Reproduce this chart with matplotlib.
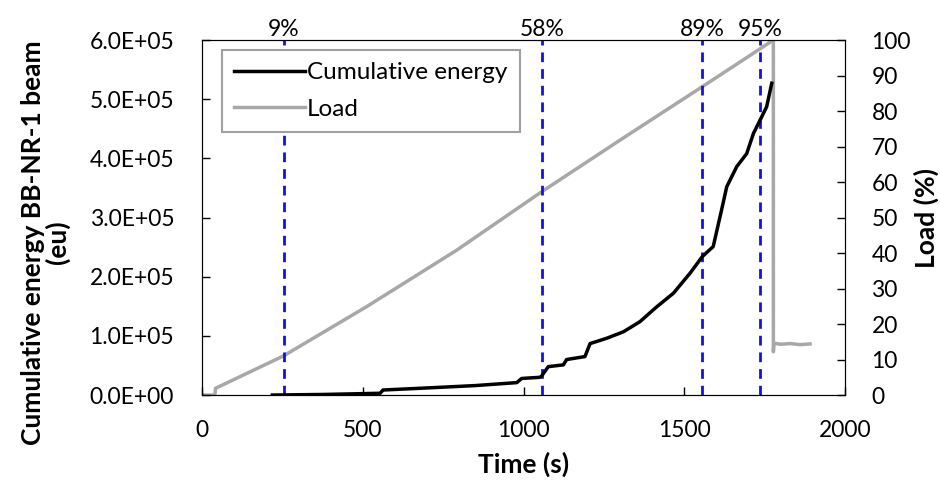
"""
Cumulative energy and load vs time, BB-NR-1 beam
"""

###############################################################################
# Libraries
import numpy as np
import matplotlib.pyplot as plt

####################################
# Data
t_load = [0, 40, 42, 253, 512, 792, 1057, 1300, 1555, 1700, 1777,
          1777, 1779, 1800, 1830, 1860, 1891]
load = [0, 0, 1.9, 11.0, 24.9, 40.8, 57.3, 71.8, 86.8, 95.4, 100.0,
        12.2, 14.6, 14.3, 14.5, 14.2, 14.4]

t_en = [219, 380, 554, 563, 700, 850, 979, 994, 1051, 1056, 1077, 1124,
        1134, 1145, 1191, 1207, 1259, 1311, 1362, 1414, 1466, 1518, 1556,
        1590, 1616, 1632, 1663, 1694, 1715, 1736, 1756, 1772]
energy = [0, 1.0e3, 3.0e3, 8.5e3, 1.2e4, 1.6e4, 2.1e4, 2.8e4, 3.0e4, 3.2e4,
          4.8e4, 5.1e4, 6.0e4, 6.1e4, 6.5e4, 8.7e4, 9.6e4, 1.07e5, 1.24e5,
          1.49e5, 1.72e5, 2.06e5, 2.34e5, 2.51e5, 3.13e5, 3.52e5, 3.86e5,
          4.08e5, 4.42e5, 4.65e5, 4.87e5, 5.27e5]

t_marks = [255, 1057, 1555, 1736]
mark_labels = ['9%', '58%', '89%', '95%']

####################################
# Plot
plt.rcParams['font.family'] = ['Lato', 'DejaVu Sans']
fs = 16.5
fl = 19

fig = plt.figure(figsize=(9.4, 4.8), dpi=100)
ax = fig.add_axes([0.2149, 0.177, 0.6841, 0.7396])
ax2 = ax.twinx()

for tm in t_marks:
    ax.axvline(tm, color='#1010ee', ls=(0, (3.5, 2.5)), lw=2, zorder=1)

l2, = ax2.plot(t_load, load, color='#a8a8a8', lw=2.5)
l1, = ax.plot(t_en, energy, color='k', lw=2.5, zorder=3)
ax.set_zorder(ax2.get_zorder() + 1)
ax.patch.set_visible(False)

ax.set_xlim(0, 2000)
ax.set_ylim(0, 6e5)
ax2.set_ylim(0, 100)
ax.set_xticks(np.arange(0, 2001, 500))
ax.set_yticks(np.arange(0, 6.01e5, 1e5))
ax2.set_yticks(np.arange(0, 101, 10))
ax.set_yticklabels(['%.1fE+%02d' % (v / 1e5 if v > 0 else 0, 5 if v > 0 else 0)
                    for v in ax.get_yticks()])

ax.tick_params(direction='in', labelsize=fs, length=6, width=1)
ax.tick_params(axis='y', pad=20)
ax.tick_params(axis='x', pad=18)
ax2.tick_params(direction='in', labelsize=fs, length=6, width=1, pad=19)

ax.set_xlabel('Time (s)', fontsize=fl, fontweight='bold', labelpad=8)
ax.set_ylabel('Cumulative energy BB-NR-1 beam\n(eu)', fontsize=fl,
              fontweight='bold', linespacing=1.0)
ax.yaxis.set_label_coords(-0.205, 0.43)
ax2.set_ylabel('Load (%)', fontsize=fl, fontweight='bold', labelpad=2)

for tm, lab in zip(t_marks, mark_labels):
    ax.text(tm, 1.0, lab, transform=ax.get_xaxis_transform(),
            ha='center', va='bottom', fontsize=fs)

leg = ax.legend([l1, l2], ['Cumulative energy', 'Load'], loc='upper left',
                bbox_to_anchor=(0.031, 0.972), borderaxespad=0,
                fontsize=fs + 1, fancybox=False,
                framealpha=1, edgecolor='#a0a0a0', handlelength=2.9,
                handletextpad=0.1, borderpad=0.5, labelspacing=0.65)
leg.get_frame().set_linewidth(1.5)

plt.savefig('out.png', dpi=100)
plt.close()
